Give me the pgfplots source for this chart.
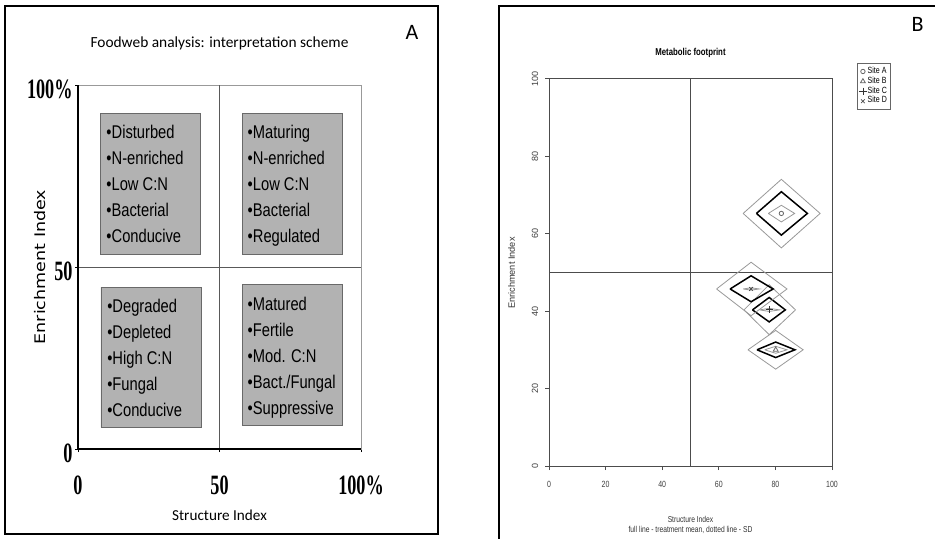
\documentclass[border=0pt]{standalone}
\usepackage{pgfplots}
\pgfplotsset{compat=1.18}
\usepackage{fontspec}
\setmainfont{Carlito}
\newfontfamily\boxfont[FakeStretch=0.8]{Liberation Sans}
\newfontfamily\tickA[FakeStretch=0.65]{Liberation Serif}
\newfontfamily\enfont[FakeStretch=1.2]{DejaVu Sans}
\newfontfamily\rfont[FakeStretch=0.78]{Liberation Sans}
\newfontfamily\rfontv{Liberation Sans}
\definecolor{boxgray}{RGB}{178,178,178}
\definecolor{boxedge}{RGB}{105,105,105}
\begin{document}
\begin{tikzpicture}
\useasboundingbox (0,0) rectangle (467.5pt,269pt);
\fill[white] (0,0) rectangle (467.5pt,269pt);
% panel frames
\draw[line width=0.75pt] (2.5pt,2pt) rectangle (219pt,266pt);
\draw[line width=0.75pt] (249.5pt,-10pt) -- (249.5pt,266pt) -- (480pt,266pt);
\node[font=\fontsize{11}{13}\selectfont] at (206pt,253pt) {A};
\node[font=\fontsize{11}{13}\selectfont] at (458.8pt,256.6pt) {B};

% ---------------- Panel A ----------------
\begin{axis}[
 at={(39pt,44.5pt)}, anchor=south west, scale only axis,
 width=141.5pt, height=182pt,
 xmin=0, xmax=100, ymin=0, ymax=100, clip=false,
 axis line style={black!40, line width=0.5pt},
 xtick={0,50,100}, ytick={0,50,100},
 xticklabels={0,50,100\%}, yticklabels={0,50,100\%},
 tick align=outside, tick pos=left, major tick length=1.5pt,
 tick style={black, line width=0.5pt},
 every tick label/.append style={font=\tickA\bfseries\fontsize{14}{16}\selectfont},
 xticklabel style={anchor=center, yshift=-16.5pt},
 yticklabel style={anchor=east, yshift=-2pt, xshift=2.3pt},
 title={Foodweb analysis: interpretation scheme},
 every axis title/.style={at={(axis description cs:0.5,1.115)}, anchor=center, font=\fontsize{7.7}{9}\selectfont},
 xlabel={Structure Index},
 xlabel style={at={(axis description cs:0.5,-0.181)}, anchor=center, font=\fontsize{7.6}{9}\selectfont},
 ylabel={Enrichment Index},
 ylabel style={at={(axis description cs:-0.134,0.5)}, anchor=center, font=\enfont\fontsize{7.3}{9}\selectfont},
]
\addplot[fill=boxgray, draw=boxedge, line width=0.4pt] coordinates {(7.8,53.6) (43.1,53.6) (43.1,92.3) (7.8,92.3) (7.8,53.6)};
\addplot[fill=boxgray, draw=boxedge, line width=0.4pt] coordinates {(58.0,53.6) (93.3,53.6) (93.3,92.3) (58.0,92.3) (58.0,53.6)};
\addplot[fill=boxgray, draw=boxedge, line width=0.4pt] coordinates {(8.1,6.0) (43.5,6.0) (43.5,44.5) (8.1,44.5) (8.1,6.0)};
\addplot[fill=boxgray, draw=boxedge, line width=0.4pt] coordinates {(58.0,6.6) (93.3,6.6) (93.3,45.1) (58.0,45.1) (58.0,6.6)};
\addplot[black!65, line width=0.5pt] coordinates {(50,0) (50,100)};
\addplot[black!65, line width=0.5pt] coordinates {(0,50) (100,50)};
\addplot[black, line width=0.75pt] coordinates {(0,100) (0,0) (100,0)};
\node[anchor=north west, align=left, inner sep=0pt, xshift=3pt, yshift=-6pt,
      font=\boxfont\fontsize{9.2}{13}\selectfont] at (axis cs:7.8,92.3)
 {•Disturbed\\•N-enriched\\•Low C:N\\•Bacterial\\•Conducive};
\node[anchor=north west, align=left, inner sep=0pt, xshift=2.6pt, yshift=-6pt,
      font=\boxfont\fontsize{9.2}{13}\selectfont] at (axis cs:58.0,92.3)
 {•Maturing\\•N-enriched\\•Low C:N\\•Bacterial\\•Regulated};
\node[anchor=north west, align=left, inner sep=0pt, xshift=3pt, yshift=-6pt,
      font=\boxfont\fontsize{9.2}{13}\selectfont] at (axis cs:8.1,44.5)
 {•Degraded\\•Depleted\\•High C:N\\•Fungal\\•Conducive};
\node[anchor=north west, align=left, inner sep=0pt, xshift=2.6pt, yshift=-6pt,
      font=\boxfont\fontsize{9.2}{13}\selectfont] at (axis cs:58.0,45.1)
 {•Matured\\•Fertile\\•Mod. C:N\\•Bact./Fungal\\•Suppressive};
\end{axis}

% ---------------- Panel B ----------------
\begin{axis}[
 at={(274.5pt,36pt)}, anchor=south west, scale only axis,
 width=141.5pt, height=193.7pt,
 xmin=0, xmax=100, ymin=0, ymax=100, clip=false,
 axis line style={black!70, line width=0.5pt},
 xtick={0,20,40,60,80,100}, ytick={0,20,40,60,80,100},
 xticklabels={0,20,40,60,80,100}, yticklabels={0,20,40,60,80,100},
 tick align=outside, tick pos=left, major tick length=2pt,
 tick style={black!70, line width=0.4pt},
 xticklabel style={font=\rfont\fontsize{4.5}{5}\selectfont, text=black!75, anchor=center, yshift=-7pt},
 yticklabel style={font=\rfontv\fontsize{4.5}{5}\selectfont, text=black!75, anchor=center, xshift=-5pt, rotate=90},
 title={\bfseries Metabolic footprint},
 every axis title/.style={at={(axis description cs:0.5,1.067)}, anchor=center, font=\rfont\fontsize{5}{6}\selectfont},
 xlabel={Structure Index\\full line - treatment mean, dotted line - SD},
 xlabel style={align=center, at={(axis description cs:0.5,-0.152)}, anchor=center, font=\rfont\fontsize{4.3}{5}\selectfont, text=black!80},
 ylabel={Enrichment Index},
 ylabel style={at={(axis description cs:-0.132,0.498)}, anchor=center, font=\rfontv\fontsize{4.6}{5}\selectfont, text=black!80},
 legend style={at={(axis description cs:1.088,1.040)}, anchor=north west, draw=black!60, line width=0.4pt,
   font=\rfont\fontsize{4.5}{4.5}\selectfont, inner xsep=1pt, inner ysep=1pt, row sep=-1pt,
   nodes={inner sep=0.6pt}},
 legend cell align=left,
 legend image code/.code={\draw[mark repeat=2,mark phase=2,#1] plot coordinates {(0pt,0pt) (2pt,0pt) (4pt,0pt)};},
]
\addplot[black!70, line width=0.5pt, forget plot] coordinates {(50,0) (50,100)};
\addplot[black!70, line width=0.5pt, forget plot] coordinates {(0,50) (100,50)};
% Site A
\addplot[black!40, line width=0.4pt, forget plot] coordinates {(68.6,65.2) (82.1,74.0) (95.8,65.2) (82.1,56.3) (68.6,65.2)};
\addplot[black, line width=0.75pt, forget plot] coordinates {(73.3,65.2) (82.1,70.8) (91.3,65.2) (82.1,59.6) (73.3,65.2)};
\addplot[black!40, line width=0.4pt, forget plot] coordinates {(77.5,65.2) (82.1,67.3) (86.8,65.2) (82.1,63.0) (77.5,65.2)};
% Site B
\addplot[black!40, line width=0.4pt, forget plot] coordinates {(70.3,30.0) (80.1,35.0) (89.8,30.0) (80.1,25.0) (70.3,30.0)};
\addplot[black, line width=0.75pt, forget plot] coordinates {(73.5,30.0) (80.1,32.0) (86.9,30.0) (80.1,28.0) (73.5,30.0)};
\addplot[black!40, line width=0.4pt, forget plot] coordinates {(76.2,30.0) (80.1,30.9) (84.1,30.0) (80.1,29.1) (76.2,30.0)};
% Site C
\addplot[black!40, line width=0.4pt, forget plot] coordinates {(68.9,40.3) (77.8,46.8) (87.1,40.3) (77.8,33.9) (68.9,40.3)};
\addplot[black, line width=0.75pt, forget plot] coordinates {(71.9,40.3) (77.8,43.5) (83.5,40.3) (77.8,37.2) (71.9,40.3)};
\addplot[black!40, line width=0.4pt, forget plot] coordinates {(74.4,40.3) (77.8,40.7) (81.5,40.3) (77.8,39.9) (74.4,40.3)};
% Site D
\addplot[black!40, line width=0.4pt, forget plot] coordinates {(59.2,45.7) (71.4,52.6) (84.1,45.7) (71.4,38.8) (59.2,45.7)};
\addplot[black, line width=0.75pt, forget plot] coordinates {(64.0,45.7) (71.4,49.1) (79.2,45.7) (71.4,42.4) (64.0,45.7)};
\addplot[black!40, line width=0.4pt, forget plot] coordinates {(68.6,45.7) (71.4,46.0) (74.3,45.7) (71.4,45.4) (68.6,45.7)};
% site means
\addplot[only marks, mark=o, mark size=1.1pt, black!60, mark options={line width=0.4pt}] coordinates {(82.1,65.2)};
\addlegendentry{Site A}
\addplot[only marks, mark=triangle, mark size=1.4pt, black!60, mark options={line width=0.4pt}] coordinates {(80.1,30.0)};
\addlegendentry{Site B}
\addplot[only marks, mark=+, mark size=1.8pt, black!80, mark options={line width=0.4pt}] coordinates {(77.8,40.3)};
\addlegendentry{Site C}
\addplot[only marks, mark=x, mark size=1.3pt, black!70, mark options={line width=0.4pt}] coordinates {(71.4,45.7)};
\addlegendentry{Site D}
\end{axis}
\end{tikzpicture}
\end{document}
